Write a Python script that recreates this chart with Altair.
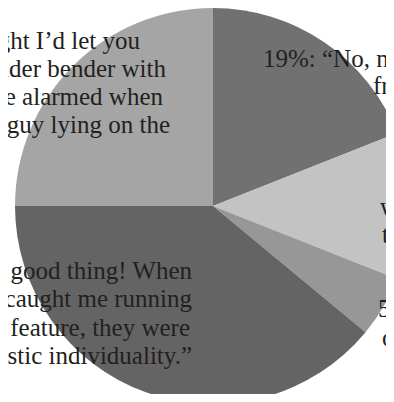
import altair as alt
import pandas as pd

# ---- data ----
categories = ["19%", "12%", "5%", "39%", "25%"]
shares = [19, 12, 5, 39, 25]
slice_order = [1, 2, 3, 4, 5]
slice_colors = ["#717171", "#c3c3c3", "#979797", "#646464", "#a5a5a5"]

# label lines (the page crops most of them)
label_lines = [
    "25%: “Mom thought I’d let you",
    "my brother go on a gender bender with",
    "him, so they were alarmed when",
    "they found a guy lying on the",
    "19%: “No, not really. I learned it",
    "from my friends.”",
    "what would",
    "they think?”",
    "5%: “Other",
    "other things.”",
    "39%: “It was a good thing! When",
    "my parents caught me running",
    "a gender bender feature, they were",
    "proud of my artistic individuality.”",
]

# ---- layout (pixel anchors of each line, and alignment) ----
line_x = [132, 158, 155, 162, 255, 365, 372, 374, 370, 374, 184, 184, 182, 184]
line_y = [41, 69, 97, 125, 59, 86, 207, 235, 309, 338, 271, 299, 328, 356]
line_align = ["right"] * 4 + ["left"] * 6 + ["right"] * 4

pie_df = pd.DataFrame({"cat": categories, "share": shares, "idx": slice_order})
txt_df = pd.DataFrame({"text": label_lines, "px": line_x, "py": line_y, "al": line_align})

pie = alt.Chart(pie_df).mark_arc(outerRadius=198, stroke=None, clip=True).encode(
    theta=alt.Theta("share:Q", stack=True),
    order=alt.Order("idx:Q"),
    color=alt.Color("cat:N", scale=alt.Scale(domain=categories, range=slice_colors), legend=None),
    x=alt.value(205),
    y=alt.value(198),
)

def text_layer(align):
    return alt.Chart(txt_df).transform_filter(
        alt.datum.al == align
    ).mark_text(
        align=align, baseline="alphabetic", font="Liberation Serif",
        fontSize=25, color="#231f20", clip=True,
    ).encode(
        x=alt.X("px:Q", scale=None),
        y=alt.Y("py:Q", scale=None),
        text="text:N",
    )

chart = alt.layer(pie, text_layer("left"), text_layer("right")).properties(
    width=378, height=386,
    autosize=alt.AutoSizeParams(type="none"),
    padding=0,
).configure_view(stroke=None)

chart.save("out.html", embed_options={"renderer": "svg", "actions": False})
